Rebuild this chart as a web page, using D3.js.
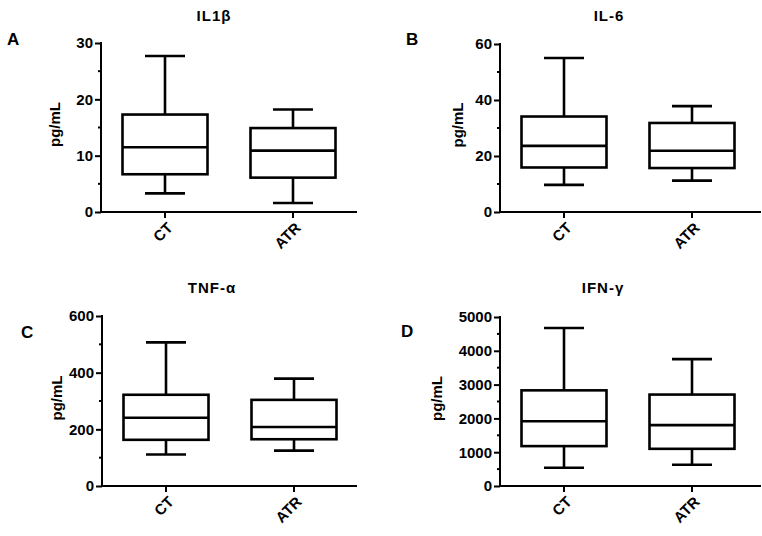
<!DOCTYPE html>
<html>
<head>
<meta charset="utf-8">
<script src="https://cdn.jsdelivr.net/npm/d3@7"></script>
<style>
  body { margin: 0; background: #fff; }
  text { font-family: "Liberation Sans", Arial, sans-serif; font-weight: bold; fill: #000; }
</style>
</head>
<body>
<svg id="chart" width="762" height="536"></svg>
<script>
// chart data
var panelLetters = ["A", "B", "C", "D"];
var titles = ["IL1β", "IL-6", "TNF-α", "IFN-γ"];
var groups = ["CT", "ATR"];
var yMax = [30, 60, 600, 5000];
var majorTicks = [
  [0, 10, 20, 30],
  [0, 20, 40, 60],
  [0, 200, 400, 600],
  [0, 1000, 2000, 3000, 4000, 5000]
];
var minorTicks = [
  [5, 15, 25],
  [10, 30, 50],
  [100, 300, 500],
  [500, 1500, 2500, 3500, 4500]
];
// [min, q1, median, q3, max] for CT, ATR
var ctStats = [
  [3.3, 6.7, 11.5, 17.3, 27.7],
  [9.7, 15.9, 23.6, 34.1, 55.0],
  [111, 163, 241, 322, 507],
  [540, 1180, 1915, 2830, 4675]
];
var atrStats = [
  [1.6, 6.1, 10.9, 14.9, 18.2],
  [11.2, 15.7, 21.9, 31.8, 37.8],
  [125, 165, 208, 304, 379],
  [630, 1100, 1800, 2705, 3755]
];

// panel layout (pixels)
var layout = [
  {x0: 101, top: 43, bottom: 212, axisEnd: 357, titleX: 214, titleY: 21, letterX: 7, letterY: 45, labelOff: 46},
  {x0: 500, top: 44, bottom: 212, axisEnd: 761, titleX: 609, titleY: 21, letterX: 406, letterY: 45, labelOff: 42},
  {x0: 102, top: 316, bottom: 486, axisEnd: 357, titleX: 212, titleY: 293, letterX: 21, letterY: 338, labelOff: 45},
  {x0: 500, top: 317, bottom: 486, axisEnd: 761, titleX: 603, titleY: 293, letterX: 401, letterY: 337, labelOff: 63}
];

var svg = d3.select("#chart");
var boxW = 85, capW = 40;

panelLetters.forEach(function (letter, i) {
  var L = layout[i];
  var g = svg.append("g");

  var y = d3.scaleLinear().domain([0, yMax[i]]).range([L.bottom, L.top]);
  var x = d3.scalePoint().domain(groups).range([L.x0, L.x0 + 256]).padding(0.5);

  // y axis
  var yAxis = d3.axisLeft(y).tickValues(majorTicks[i]).tickSize(6).tickPadding(2).tickFormat(d3.format("d"));
  var ya = g.append("g").attr("transform", "translate(" + L.x0 + ",0)").call(yAxis);
  ya.select(".domain").remove();
  ya.selectAll(".tick line").attr("stroke", "#000").attr("stroke-width", 2);
  ya.selectAll(".tick text").style("font-size", "15px");
  g.selectAll(".minor").data(minorTicks[i]).enter().append("line")
    .attr("x1", L.x0 - 3).attr("x2", L.x0)
    .attr("y1", function (d) { return y(d); }).attr("y2", function (d) { return y(d); })
    .attr("stroke", "#000").attr("stroke-width", 2);
  g.append("line").attr("x1", L.x0).attr("x2", L.x0).attr("y1", L.top - 1).attr("y2", L.bottom + 1)
    .attr("stroke", "#000").attr("stroke-width", 2);

  // x axis
  g.append("line").attr("x1", L.x0 - 1).attr("x2", L.axisEnd).attr("y1", L.bottom).attr("y2", L.bottom)
    .attr("stroke", "#000").attr("stroke-width", 2);
  g.selectAll(".xt").data(groups).enter().append("line")
    .attr("x1", function (d) { return x(d); }).attr("x2", function (d) { return x(d); })
    .attr("y1", L.bottom).attr("y2", L.bottom + 6)
    .attr("stroke", "#000").attr("stroke-width", 2);
  g.selectAll(".xl").data(groups).enter().append("text")
    .attr("transform", function (d) { return "translate(" + (x(d) + 5) + "," + (L.bottom + 13) + ") rotate(-45)"; })
    .attr("text-anchor", "end")
    .attr("dy", "0.35em")
    .style("font-size", "15px")
    .text(function (d) { return d; });

  // boxes
  var stats = [ctStats[i], atrStats[i]];
  stats.forEach(function (s, j) {
    var cx = x(groups[j]);
    var bg = g.append("g").attr("stroke", "#000").attr("stroke-width", 2.6).attr("fill", "none");
    bg.append("line").attr("x1", cx).attr("x2", cx).attr("y1", y(s[0])).attr("y2", y(s[1]));
    bg.append("line").attr("x1", cx).attr("x2", cx).attr("y1", y(s[3])).attr("y2", y(s[4]));
    bg.append("line").attr("x1", cx - capW / 2).attr("x2", cx + capW / 2).attr("y1", y(s[0])).attr("y2", y(s[0]));
    bg.append("line").attr("x1", cx - capW / 2).attr("x2", cx + capW / 2).attr("y1", y(s[4])).attr("y2", y(s[4]));
    bg.append("rect").attr("x", cx - boxW / 2).attr("width", boxW)
      .attr("y", y(s[3])).attr("height", y(s[1]) - y(s[3]));
    bg.append("line").attr("x1", cx - boxW / 2).attr("x2", cx + boxW / 2).attr("y1", y(s[2])).attr("y2", y(s[2]));
  });

  // labels
  g.append("text").attr("x", L.titleX).attr("y", L.titleY).attr("text-anchor", "middle")
    .style("font-size", "15px").style("letter-spacing", "1px").text(titles[i]);
  g.append("text").attr("x", L.letterX).attr("y", L.letterY)
    .style("font-size", "17px").text(letter);
  g.append("text")
    .attr("transform", "translate(" + (L.x0 - L.labelOff + 5) + "," + ((L.top + L.bottom) / 2 - 3) + ") rotate(-90)")
    .attr("text-anchor", "middle")
    .style("font-size", "15px")
    .text("pg/mL");
});
</script>
</body>
</html>
